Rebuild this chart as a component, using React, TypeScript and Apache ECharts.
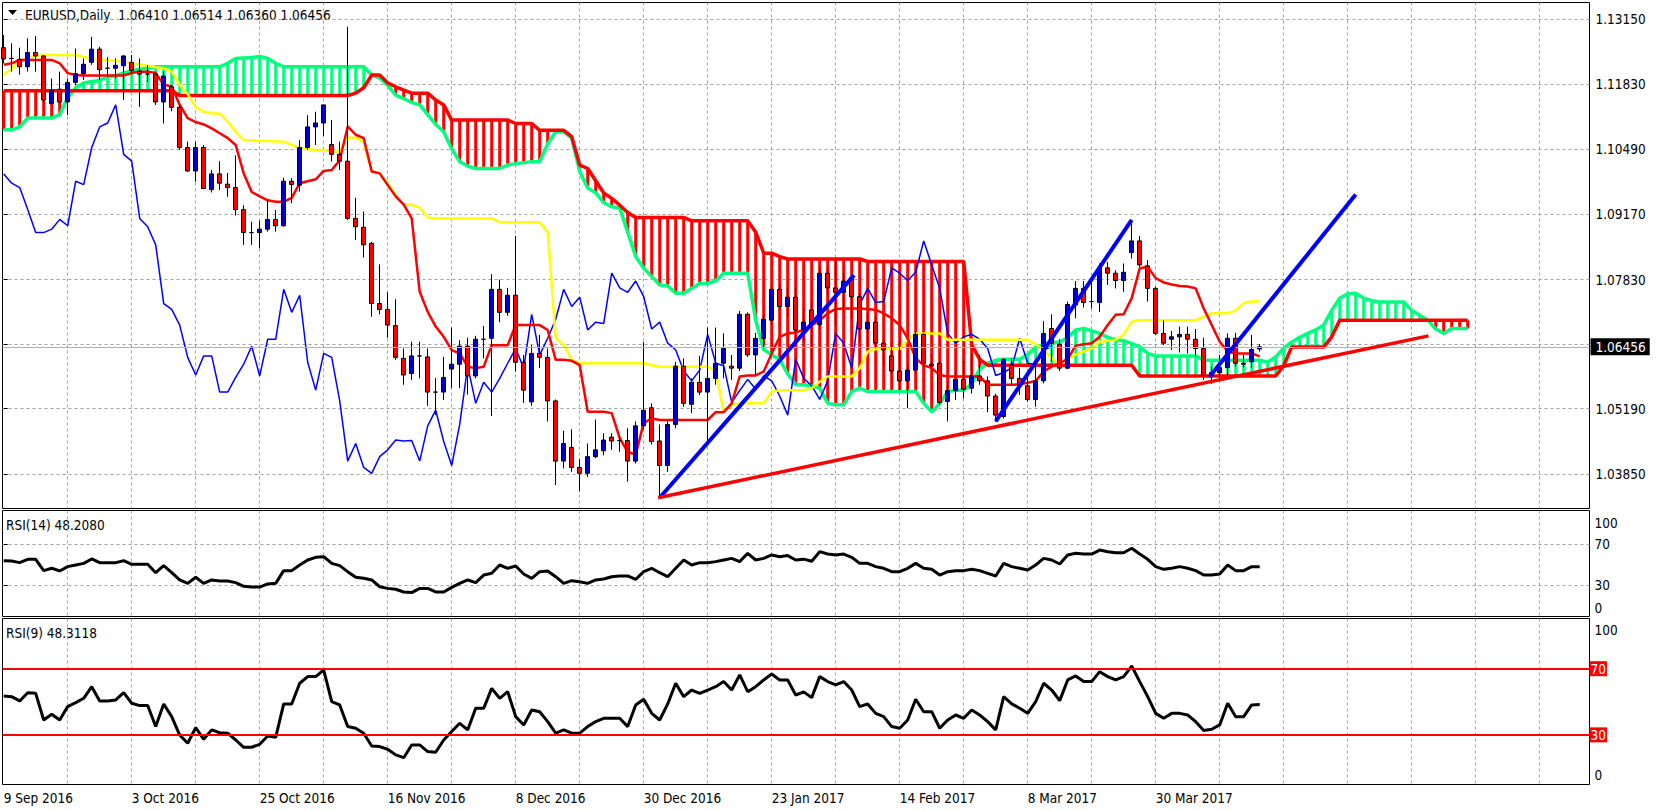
import React, { useEffect, useRef } from "react";
import * as echarts from "echarts";

// ---------------- DATA ----------------
const opens = [
  1.1257,1.1235,1.1233,1.1218,1.1247,1.1240,1.1143,1.1172,1.1146,1.1186,
  1.1204,1.1227,1.1254,1.1215,1.1215,1.1220,1.1227,1.1209,1.1203,1.1203,
  1.1146,1.1177,1.1135,1.1053,1.1005,1.1053,1.0967,1.0999,1.0978,1.0971,
  1.0926,1.0879,1.0879,1.0886,1.0906,1.0893,1.0984,1.0976,1.1053,1.1095,
  1.1103,1.1059,1.1039,1.1025,1.0908,1.0890,1.0857,1.0734,1.0722,1.0689,
  1.0622,1.0591,1.0627,1.0625,1.0553,1.0553,1.0600,1.0610,1.0647,1.0586,
  1.0661,1.0663,1.0763,1.0716,1.0751,1.0614,1.0533,1.0632,1.0624,1.0535,
  1.0412,1.0440,1.0399,1.0387,1.0421,1.0433,1.0461,1.0454,1.0454,1.0412,
  1.0484,1.0521,1.0453,1.0403,1.0487,1.0606,1.0528,1.0573,1.0553,1.0581,
  1.0612,1.0606,1.0602,1.0712,1.0629,1.0663,1.0700,1.0763,1.0728,1.0747,
  1.0680,1.0721,1.0691,1.0796,1.0766,1.0757,1.0787,1.0748,1.0682,1.0696,
  1.0653,1.0627,1.0596,1.0576,1.0598,1.0671,1.0610,1.0612,1.0534,1.0556,
  1.0579,1.0561,1.0586,1.0576,1.0545,1.0503,1.0608,1.0581,1.0566,1.0538,
  1.0576,1.0683,1.0651,1.0602,1.0731,1.0765,1.0738,1.0736,1.0807,1.0796,
  1.0781,1.0838,1.0862,1.0811,1.0765,1.0673,1.0661,1.0666,1.0671,1.0661,
  1.0642,1.0586,1.0593,1.0603,1.0663,1.0612,1.0615,1.06410,
];
const highs = [
  1.1283,1.1266,1.1257,1.1276,1.1281,1.1242,1.1194,1.1208,1.1194,1.1255,
  1.1235,1.1279,1.1259,1.1238,1.1235,1.1242,1.1242,1.1235,1.1221,1.1208,
  1.1208,1.1180,1.1140,1.1065,1.1065,1.1058,1.1007,1.1025,1.1001,1.1037,
  1.0935,1.0901,1.0903,1.0946,1.0925,1.0991,1.0990,1.1068,1.1119,1.1126,
  1.1140,1.1109,1.1065,1.1300,1.0950,1.0922,1.0860,1.0814,1.0757,1.0743,
  1.0642,1.0656,1.0656,1.0642,1.0582,1.0625,1.0685,1.0659,1.0664,1.0668,
  1.0688,1.0794,1.0783,1.0766,1.0872,1.0629,1.0649,1.0670,1.0642,1.0538,
  1.0474,1.0477,1.0416,1.0448,1.0497,1.0469,1.0469,1.0462,1.0479,1.0493,
  1.0655,1.0530,1.0487,1.0496,1.0615,1.0622,1.0581,1.0627,1.0685,1.0685,
  1.0673,1.0629,1.0719,1.0716,1.0674,1.0711,1.0768,1.0772,1.0766,1.0766,
  1.0723,1.0739,1.0809,1.0806,1.0826,1.0796,1.0792,1.0755,1.0714,1.0707,
  1.0664,1.0656,1.0656,1.0608,1.0676,1.0673,1.0630,1.0615,1.0574,1.0595,
  1.0617,1.0629,1.0629,1.0585,1.0550,1.0622,1.0622,1.0602,1.0583,1.0612,
  1.0698,1.0712,1.0661,1.0738,1.0780,1.0780,1.0779,1.0816,1.0819,1.0802,
  1.0816,1.0905,1.0872,1.0823,1.0768,1.0700,1.0678,1.0687,1.0687,1.0682,
  1.0664,1.0605,1.0629,1.0673,1.0674,1.0629,1.0670,1.06514,
];
const lows = [
  1.1225,1.1208,1.1202,1.1208,1.1208,1.1143,1.1140,1.1143,1.1119,1.1180,
  1.1191,1.1222,1.1191,1.1197,1.1194,1.1150,1.1204,1.1136,1.1187,1.1140,
  1.1102,1.1127,1.1048,1.1003,1.0983,1.0968,1.0961,1.0966,1.0952,1.0914,
  1.0854,1.0854,1.0847,1.0881,1.0881,1.0891,1.0939,1.0963,1.1048,1.1058,
  1.1077,1.1024,1.1007,1.0905,1.0864,1.0828,1.0707,1.0712,1.0664,1.0619,
  1.0568,1.0578,1.0581,1.0525,1.0506,1.0537,1.0561,1.0561,1.0548,1.0581,
  1.0622,1.0504,1.0696,1.0709,1.0595,1.0531,1.0525,1.0602,1.0493,1.0363,
  1.0397,1.0390,1.0350,1.0380,1.0418,1.0424,1.0435,1.0431,1.0370,1.0407,
  1.0477,1.0446,1.0337,1.0390,1.0479,1.0523,1.0510,1.0547,1.0445,1.0568,
  1.0581,1.0578,1.0596,1.0625,1.0588,1.0642,1.0690,1.0719,1.0707,1.0663,
  1.0656,1.0619,1.0683,1.0751,1.0687,1.0717,1.0704,1.0656,1.0639,1.0642,
  1.0605,1.0591,1.0557,1.0520,1.0591,1.0605,1.0602,1.0527,1.0493,1.0537,
  1.0540,1.0550,1.0568,1.0512,1.0493,1.0499,1.0568,1.0547,1.0533,1.0523,
  1.0571,1.0615,1.0596,1.0600,1.0704,1.0726,1.0724,1.0717,1.0772,1.0765,
  1.0758,1.0826,1.0809,1.0738,1.0670,1.0649,1.0639,1.0634,1.0632,1.0625,
  1.0578,1.0570,1.0574,1.0587,1.0605,1.0603,1.0603,1.06360,
];
const closes = [
  1.1234,1.1235,1.1218,1.1247,1.1240,1.1150,1.1170,1.1146,1.1186,1.1204,
  1.1223,1.1254,1.1212,1.1215,1.1221,1.1240,1.1210,1.1203,1.1203,1.1146,
  1.1199,1.1135,1.1053,1.1005,1.1053,1.0969,1.0999,1.0980,1.0971,1.0926,
  1.0879,1.0879,1.0886,1.0906,1.0893,1.0984,1.0977,1.1053,1.1095,1.1103,
  1.1140,1.1039,1.1025,1.0908,1.0891,1.0854,1.0734,1.0722,1.0690,1.0624,
  1.0588,1.0627,1.0627,1.0553,1.0553,1.0583,1.0610,1.0647,1.0586,1.0661,
  1.0661,1.0763,1.0716,1.0751,1.0614,1.0557,1.0632,1.0624,1.0535,1.0412,
  1.0448,1.0399,1.0387,1.0421,1.0435,1.0455,1.0453,1.0454,1.0412,1.0484,
  1.0516,1.0452,1.0403,1.0487,1.0606,1.0530,1.0573,1.0553,1.0581,1.0612,
  1.0642,1.0602,1.0712,1.0629,1.0663,1.0702,1.0763,1.0728,1.0747,1.0680,
  1.0696,1.0693,1.0796,1.0766,1.0757,1.0780,1.0748,1.0682,1.0696,1.0653,
  1.0639,1.0596,1.0576,1.0598,1.0671,1.0612,1.0607,1.0532,1.0556,1.0579,
  1.0559,1.0586,1.0576,1.0545,1.0506,1.0620,1.0581,1.0566,1.0538,1.0576,
  1.0673,1.0653,1.0602,1.0732,1.0765,1.0736,1.0738,1.0807,1.0796,1.0781,
  1.0798,1.0862,1.0813,1.0765,1.0673,1.0653,1.0666,1.0671,1.0661,1.0642,
  1.0587,1.0593,1.0603,1.0663,1.0612,1.0610,1.0640,1.06456,
];

const tenkan = [
  1.1222,1.1225,1.1232,1.1232,1.1232,1.1232,1.1232,1.1225,1.1205,1.1201,
  1.1200,1.1200,1.1200,1.1200,1.1200,1.1200,1.1205,1.1208,1.1208,1.1205,
  1.1181,1.1178,1.1140,1.1113,1.1105,1.1100,1.1092,1.1082,1.1072,1.1058,
  1.1000,1.0962,1.0953,1.0945,1.0942,1.0942,1.0950,1.0980,1.0984,1.0988,
  1.1005,1.1007,1.1027,1.1096,1.1079,1.1072,1.1004,1.1000,1.0976,1.0953,
  1.0936,1.0908,1.0758,1.0717,1.0687,1.0666,1.0639,1.0632,1.0605,1.0602,
  1.0605,1.0649,1.0649,1.0649,1.0690,1.0690,1.0690,1.0690,1.0680,1.0619,
  1.0619,1.0617,1.0608,1.0513,1.0513,1.0513,1.0510,1.0459,1.0431,1.0425,
  1.0490,1.0499,1.0496,1.0496,1.0496,1.0496,1.0496,1.0496,1.0496,1.0512,
  1.0512,1.0530,1.0585,1.0587,1.0587,1.0595,1.0632,1.0666,1.0673,1.0675,
  1.0680,1.0689,1.0700,1.0714,1.0723,1.0724,1.0724,1.0724,1.0723,1.0721,
  1.0714,1.0704,1.0690,1.0663,1.0622,1.0608,1.0602,1.0588,1.0585,1.0585,
  1.0585,1.0585,1.0585,1.0568,1.0568,1.0568,1.0568,1.0569,1.0572,1.0576,
  1.0595,1.0605,1.0612,1.0621,1.0648,1.0651,1.0653,1.0666,1.0690,1.0711,
  1.0712,1.0745,1.0806,1.0809,1.0786,1.0777,1.0773,1.0770,1.0769,1.0765,
  1.0724,1.0690,1.0656,1.0636,1.0632,1.0632,1.0632,1.0626,
];
const kijun = [
  1.1201,1.1215,1.1228,1.1237,1.1240,1.1242,1.1242,1.1242,1.1242,1.1242,
  1.1238,1.1235,1.1232,1.1232,1.1230,1.1228,1.1225,1.1222,1.1220,1.1217,
  1.1215,1.1208,1.1181,1.1162,1.1135,1.1126,1.1123,1.1122,1.1106,1.1085,
  1.1068,1.1067,1.1066,1.1066,1.1065,1.1065,1.1058,1.1052,1.1050,1.1048,
  1.1048,1.1045,1.1045,1.1073,1.1073,1.1064,1.1004,1.1000,1.0980,1.0955,
  1.0936,1.0936,1.0930,1.0910,1.0908,1.0908,1.0908,1.0908,1.0908,1.0908,
  1.0908,1.0908,1.0900,1.0900,1.0900,1.0900,1.0900,1.0900,1.0880,1.0663,
  1.0650,1.0619,1.0612,1.0612,1.0612,1.0612,1.0612,1.0612,1.0612,1.0612,
  1.0612,1.0608,1.0605,1.0605,1.0605,1.0605,1.0605,1.0605,1.0605,1.0595,
  1.0513,1.0527,1.0530,1.0530,1.0530,1.0530,1.0554,1.0557,1.0557,1.0557,
  1.0557,1.0561,1.0574,1.0585,1.0585,1.0585,1.0585,1.0602,1.0636,1.0641,
  1.0641,1.0641,1.0641,1.0660,1.0673,1.0673,1.0673,1.0673,1.0660,1.0660,
  1.0660,1.0660,1.0660,1.0660,1.0660,1.0660,1.0660,1.0660,1.0660,1.0650,
  1.0640,1.0622,1.0610,1.0620,1.0630,1.0636,1.0643,1.0656,1.0658,1.0660,
  1.0670,1.0697,1.0700,1.0700,1.0700,1.0700,1.0700,1.0700,1.0700,1.0700,
  1.0707,1.0714,1.0714,1.0714,1.0720,1.0735,1.0738,1.0738,
];
const senkouA = [
  1.1089,1.1089,1.1095,1.1113,1.1113,1.1113,1.1113,1.1120,1.1155,1.1175,
  1.1185,1.1188,1.1190,1.1197,1.1200,1.1205,1.1210,1.1213,1.1215,1.1218,
  1.1218,1.1218,1.1218,1.1218,1.1218,1.1218,1.1218,1.1218,1.1225,1.1235,
  1.1236,1.1237,1.1239,1.1235,1.1225,1.1218,1.1218,1.1218,1.1218,1.1218,
  1.1218,1.1218,1.1218,1.1218,1.1218,1.1218,1.1201,1.1195,1.1180,1.1160,
  1.1153,1.1145,1.1140,1.1120,1.1100,1.1085,1.1050,1.1024,1.1015,1.1010,
  1.1010,1.1010,1.1010,1.1017,1.1020,1.1022,1.1024,1.1024,1.1060,1.1085,
  1.1085,1.1072,1.1004,1.0970,1.0960,1.0940,1.0932,1.0929,1.0880,1.0830,
  1.0806,1.0789,1.0772,1.0770,1.0755,1.0755,1.0765,1.0775,1.0775,1.0780,
  1.0796,1.0796,1.0796,1.0796,1.0700,1.0640,1.0629,1.0620,1.0590,1.0568,
  1.0568,1.0566,1.0561,1.0530,1.0527,1.0527,1.0554,1.0561,1.0554,1.0554,
  1.0554,1.0554,1.0554,1.0554,1.0554,1.0530,1.0513,1.0530,1.0554,1.0557,
  1.0557,1.0570,1.0600,1.0612,1.0618,1.0620,1.0620,1.0620,1.0630,1.0645,
  1.0650,1.0655,1.0655,1.0665,1.0680,1.0683,1.0678,1.0673,1.0665,1.0660,
  1.0658,1.0652,1.0646,1.0632,1.0627,1.0627,1.0627,1.0627,1.0627,1.0627,
  1.0618,1.0618,1.0618,1.0618,1.0618,1.0618,1.0618,1.0618,1.0614,1.0625,
  1.0643,1.0655,1.0665,1.0673,1.0680,1.0690,1.0720,1.0745,1.0754,1.0755,
  1.0745,1.0740,1.0737,1.0737,1.0737,1.0737,1.0720,1.0710,1.0700,1.0682,
  1.0673,1.0683,1.0683,1.0683,
];
const senkouB = [
  1.1169,1.1169,1.1169,1.1169,1.1169,1.1169,1.1169,1.1169,1.1169,1.1169,
  1.1169,1.1169,1.1169,1.1169,1.1169,1.1169,1.1169,1.1169,1.1169,1.1169,
  1.1169,1.1169,1.1159,1.1159,1.1159,1.1159,1.1159,1.1159,1.1159,1.1159,
  1.1159,1.1159,1.1159,1.1159,1.1159,1.1159,1.1159,1.1159,1.1159,1.1159,
  1.1159,1.1159,1.1159,1.1159,1.1164,1.1175,1.1201,1.1201,1.1185,1.1177,
  1.1170,1.1164,1.1164,1.1164,1.1150,1.1140,1.1109,1.1109,1.1109,1.1109,
  1.1109,1.1109,1.1109,1.1109,1.1102,1.1102,1.1102,1.1088,1.1088,1.1088,
  1.1088,1.1075,1.1017,1.1010,1.0985,1.0960,1.0949,1.0935,1.0920,1.0910,
  1.0910,1.0910,1.0910,1.0910,1.0910,1.0910,1.0903,1.0903,1.0903,1.0903,
  1.0903,1.0903,1.0903,1.0903,1.0880,1.0837,1.0837,1.0830,1.0825,1.0825,
  1.0825,1.0825,1.0825,1.0825,1.0825,1.0825,1.0825,1.0825,1.0820,1.0820,
  1.0820,1.0820,1.0820,1.0820,1.0820,1.0820,1.0820,1.0820,1.0820,1.0820,
  1.0820,1.0650,1.0620,1.0608,1.0608,1.0608,1.0608,1.0608,1.0608,1.0608,
  1.0608,1.0608,1.0608,1.0608,1.0608,1.0608,1.0608,1.0608,1.0608,1.0608,
  1.0608,1.0608,1.0586,1.0586,1.0586,1.0586,1.0586,1.0586,1.0586,1.0586,
  1.0586,1.0586,1.0586,1.0586,1.0586,1.0586,1.0586,1.0586,1.0586,1.0586,
  1.0607,1.0645,1.0645,1.0645,1.0645,1.0645,1.0666,1.0700,1.0700,1.0700,
  1.0700,1.0700,1.0700,1.0700,1.0700,1.0700,1.0700,1.0700,1.0700,1.0700,
  1.0700,1.0700,1.0700,1.0700,
];

const rsi14 = [
  54.0,53.7,52.1,55.3,55.3,44.3,46.6,44.0,48.2,49.8,
  51.4,55.7,52.1,52.1,52.1,54.0,50.5,50.5,50.5,42.3,
  49.2,42.3,35.2,31.9,37.8,31.9,35.2,34.2,34.2,32.6,
  29.0,28.3,28.3,31.3,31.9,44.3,44.3,49.8,54.7,57.3,
  57.9,51.4,49.2,43.3,37.8,36.8,35.2,28.6,27.0,26.1,
  23.5,22.9,27.0,27.0,23.5,23.5,28.0,31.9,35.2,32.6,
  40.0,41.7,49.8,46.6,48.8,41.0,36.8,43.3,44.0,38.4,
  31.9,34.5,33.5,31.9,35.2,36.1,38.4,39.1,39.1,35.8,
  43.3,46.6,42.3,38.4,46.6,54.7,49.8,52.1,52.1,53.1,
  54.7,56.3,53.1,61.2,54.7,56.3,59.6,57.9,59.0,54.7,
  55.5,53.5,62.8,60.5,59.6,60.5,57.3,51.4,51.4,48.2,
  46.6,43.3,43.3,46.6,51.4,46.6,45.6,40.0,43.3,44.3,
  44.3,45.6,44.3,41.7,39.1,51.4,48.2,46.6,44.9,49.8,
  56.3,54.7,50.8,59.6,61.2,60.5,60.5,64.4,62.8,61.8,
  61.8,66.1,60.5,55.3,48.2,45.6,46.6,48.2,46.6,44.3,
  40.0,40.0,41.0,49.8,44.3,44.3,48.2,48.208,
];
const rsi9 = [
  53.5,53.1,50.5,55.5,55.1,39.0,42.4,39.0,47.1,49.5,
  52.1,59.1,50.5,50.5,51.1,55.5,49.1,47.7,47.7,35.0,
  48.7,41.0,29.9,24.9,34.4,27.3,33.0,31.3,31.0,26.9,
  22.5,22.5,24.3,29.3,28.5,48.7,48.7,61.2,65.2,65.2,
  69.2,50.1,48.1,35.0,34.0,31.0,23.3,22.9,21.3,17.9,
  16.2,23.9,23.9,19.9,19.5,26.9,32.0,37.0,33.0,46.1,
  46.1,58.1,52.1,56.1,41.0,36.0,45.0,44.0,38.0,31.0,
  33.0,31.0,31.0,35.0,38.0,40.0,40.0,40.0,35.0,48.1,
  51.5,43.0,39.0,48.7,61.2,53.1,57.1,55.1,57.1,59.1,
  62.2,57.1,66.2,56.1,59.1,63.2,66.8,63.2,63.2,54.1,
  56.0,52.5,65.2,62.2,60.2,62.2,57.1,47.1,48.7,43.0,
  41.0,35.0,34.0,39.0,51.5,44.0,44.0,34.0,39.0,42.0,
  40.0,45.0,42.0,38.0,33.0,53.1,48.7,46.1,43.0,50.1,
  61.2,57.1,50.7,63.2,65.6,62.2,62.2,68.2,65.2,63.2,
  65.2,71.6,62.2,53.1,43.0,40.0,43.0,43.0,42.0,38.0,
  32.6,33.4,36.0,49.1,41.0,41.0,48.1,48.3118,
];

const chikouShift = 26;
const trendBlue1 = [[82, 1.0337], [106.3, 1.0792]];
const trendBlue2 = [[124, 1.0493], [141, 1.0905]];
const trendBlue3 = [[150.7, 1.0584], [169, 1.0957]];
const trendRed = [[81.8, 1.0337], [178.1, 1.0668]];

const priceGridValues = [1.0385, 1.0519, 1.0651, 1.0783, 1.0917, 1.1049, 1.1183, 1.1315];
const priceLabelValues = [1.0385, 1.0519, 1.0783, 1.0917, 1.1049, 1.1183, 1.1315];
const timeGridValues = [8,16,24,32,40,48,56,64,72,80,88,96,104,112,120,128,136,144,152,160,168,176,184,192];
const dateTickValues = [0,16,32,48,64,80,96,112,128,144];
const dateLabels = ["9 Sep 2016","3 Oct 2016","25 Oct 2016","16 Nov 2016","8 Dec 2016","30 Dec 2016","23 Jan 2017","14 Feb 2017","8 Mar 2017","30 Mar 2017"];
const rsiLevels = [70, 30];
const lastPrice = 1.06456;
const headerText = "EURUSD,Daily  1.06410 1.06514 1.06360 1.06456";
const rsi14Label = "RSI(14) 48.2080";
const rsi9Label = "RSI(9) 48.3118";

// ---------------- STYLE ----------------
const FONT = '"DejaVu Sans Condensed", "DejaVu Sans", sans-serif';
const FS = 13.5;
const GRID_COLOR = "#A0A0A0";
const GREEN = "#00FF7F";
const RED = "#FF0000";
const BULL = "#0000CD";
const X_MIN = -0.15;
const X_MAX = 198.225;

const pairs = (arr: number[]) => arr.map((v, i) => [i, v]);

function buildOption() {
  const xAxisBase = (g: number) => ({
    type: "value",
    gridIndex: g,
    min: X_MIN,
    max: X_MAX,
    axisLine: { show: false },
    axisTick: { show: false, customValues: timeGridValues },
    splitLine: { show: true, lineStyle: { color: GRID_COLOR, type: [3, 3], width: 1 } },
    axisLabel: g === 2
      ? {
          show: true,
          customValues: dateTickValues,
          formatter: (v: number) => dateLabels[Math.round(v / 16)] ?? "",
          align: "left",
          margin: 6,
          color: "#000",
          fontFamily: FONT,
          fontSize: FS,
        }
      : { show: false },
  });

  const labelStyle = { color: "#000", fontFamily: FONT, fontSize: FS };

  return {
    animation: false,
    backgroundColor: "#ffffff",
    grid: [
      { left: 2.5, top: 2.5, width: 1587, height: 506, show: true, borderColor: "#000", borderWidth: 1 },
      { left: 2.5, top: 510.5, width: 1587, height: 106, show: true, borderColor: "#000", borderWidth: 1 },
      { left: 2.5, top: 618.5, width: 1587, height: 166, show: true, borderColor: "#000", borderWidth: 1 },
    ],
    xAxis: [xAxisBase(0), xAxisBase(1), xAxisBase(2)],
    yAxis: [
      {
        type: "value",
        gridIndex: 0,
        position: "right",
        min: 1.03151,
        max: 1.13493,
        axisLine: { show: false },
        axisTick: { show: true, length: 4, customValues: priceGridValues, lineStyle: { color: "#000" } },
        splitLine: { show: true, lineStyle: { color: GRID_COLOR, type: [3, 3], width: 1 } },
        axisLabel: {
          customValues: priceLabelValues,
          formatter: (v: number) => v.toFixed(5),
          margin: 6,
          ...labelStyle,
        },
      },
      {
        type: "value",
        gridIndex: 1,
        position: "right",
        min: -0.44,
        max: 102.98,
        axisLine: { show: false },
        axisTick: { show: true, length: 4, customValues: rsiLevels, lineStyle: { color: "#000" } },
        splitLine: { show: true, lineStyle: { color: GRID_COLOR, type: [3, 3], width: 1 } },
        axisLabel: {
          customValues: [100, 70, 30, 0],
          formatter: (v: number) => (v === 100 ? "{dn|100}" : v === 0 ? "{up|0}" : String(v)),
          margin: 5,
          ...labelStyle,
          rich: {
            dn: { padding: [18, 0, 0, 0], ...labelStyle },
            up: { padding: [0, 0, 16, 0], ...labelStyle },
          },
        },
      },
      {
        type: "value",
        gridIndex: 2,
        position: "right",
        min: 0,
        max: 100.33,
        axisLine: { show: false },
        axisTick: { show: false },
        splitLine: { show: false },
        axisLabel: {
          customValues: [100, 0],
          formatter: (v: number) => (v === 100 ? "{dn|100}" : "{up|0}"),
          margin: 5,
          ...labelStyle,
          rich: {
            dn: { padding: [22, 0, 0, 0], ...labelStyle },
            up: { padding: [0, 0, 19, 0], ...labelStyle },
          },
        },
      },
    ],
    graphic: [
      { type: "polygon", shape: { points: [[8, 10], [17, 10], [12.5, 15]] }, style: { fill: "#000" } },
      { type: "text", x: 25, y: 14.5, style: { text: headerText, fill: "#000", fontFamily: FONT, fontSize: FS, verticalAlign: "middle", textVerticalAlign: "middle" } },
      { type: "text", x: 6, y: 525, style: { text: rsi14Label, fill: "#000", fontFamily: FONT, fontSize: FS, verticalAlign: "middle", textVerticalAlign: "middle" } },
      { type: "text", x: 6, y: 633, style: { text: rsi9Label, fill: "#000", fontFamily: FONT, fontSize: FS, verticalAlign: "middle", textVerticalAlign: "middle" } },
    ],
    series: [
      {
        name: "Kumo",
        type: "custom",
        xAxisIndex: 0,
        yAxisIndex: 0,
        z: 1,
        silent: true,
        clip: true,
        encode: { x: 0, y: [1, 2] },
        data: senkouA.map((a, i) => [i, a, senkouB[i]]),
        renderItem: (params: any, api: any) => {
          const i = api.value(0);
          const a = api.value(1);
          const b = api.value(2);
          const pa = api.coord([i, a]);
          const pb = api.coord([i, b]);
          const top = Math.min(pa[1], pb[1]);
          const h = Math.max(1, Math.abs(pa[1] - pb[1]));
          return {
            type: "rect",
            shape: { x: pa[0] - 1.5, y: top, width: 3, height: h },
            style: { fill: a >= b ? GREEN : RED },
          };
        },
      },
      { name: "Senkou A", type: "line", xAxisIndex: 0, yAxisIndex: 0, z: 2, symbol: "none", silent: true, data: pairs(senkouA), lineStyle: { color: GREEN, width: 3.5 } },
      {
        name: "Senkou B",
        type: "line",
        xAxisIndex: 0,
        yAxisIndex: 0,
        z: 2,
        symbol: "none",
        silent: true,
        data: pairs(senkouB),
        lineStyle: { color: RED, width: 3.5 },
        markLine: {
          silent: true,
          symbol: ["none", "none"],
          animation: false,
          precision: 5,
          data: [{ yAxis: lastPrice }],
          lineStyle: { color: "#B4B4B4", type: "solid", width: 1 },
          label: {
            show: true,
            position: "end",
            formatter: lastPrice.toFixed(5),
            color: "#fff",
            backgroundColor: "#000",
            padding: [2, 4, 1, 5],
            distance: 1,
            fontFamily: FONT,
            fontSize: FS,
          },
        },
      },
      { name: "Chikou", type: "line", xAxisIndex: 0, yAxisIndex: 0, z: 3, symbol: "none", silent: true, data: pairs(closes.slice(chikouShift)), lineStyle: { color: "#0000FF", width: 1.5 } },
      { name: "Kijun", type: "line", xAxisIndex: 0, yAxisIndex: 0, z: 3, symbol: "none", silent: true, data: pairs(kijun), lineStyle: { color: "#FFFF00", width: 2.5 } },
      { name: "Tenkan", type: "line", xAxisIndex: 0, yAxisIndex: 0, z: 3, symbol: "none", silent: true, data: pairs(tenkan), lineStyle: { color: RED, width: 2.5 } },
      {
        name: "EURUSD",
        type: "candlestick",
        xAxisIndex: 0,
        yAxisIndex: 0,
        z: 4,
        silent: true,
        barWidth: 4,
        data: opens.map((o, i) => [i, o, closes[i], lows[i], highs[i]]),
        itemStyle: {
          color: BULL,
          color0: RED,
          borderColor: "#000",
          borderColor0: "#000",
          borderColorDoji: "#000",
          borderWidth: 1,
        },
      },
      { name: "Trend 1", type: "line", xAxisIndex: 0, yAxisIndex: 0, z: 5, symbol: "none", silent: true, data: trendBlue1, lineStyle: { color: "#0000FF", width: 4 } },
      { name: "Trend 2", type: "line", xAxisIndex: 0, yAxisIndex: 0, z: 5, symbol: "none", silent: true, data: trendBlue2, lineStyle: { color: "#0000FF", width: 4 } },
      { name: "Trend 3", type: "line", xAxisIndex: 0, yAxisIndex: 0, z: 5, symbol: "none", silent: true, data: trendBlue3, lineStyle: { color: "#0000FF", width: 4 } },
      { name: "Support", type: "line", xAxisIndex: 0, yAxisIndex: 0, z: 5, symbol: "none", silent: true, data: trendRed, lineStyle: { color: RED, width: 3.5 } },
      { name: "RSI(14)", type: "line", xAxisIndex: 1, yAxisIndex: 1, z: 3, symbol: "none", silent: true, data: pairs(rsi14), lineStyle: { color: "#000", width: 3 } },
      {
        name: "RSI(9)",
        type: "line",
        xAxisIndex: 2,
        yAxisIndex: 2,
        z: 3,
        symbol: "none",
        silent: true,
        data: pairs(rsi9),
        lineStyle: { color: "#000", width: 3 },
        markLine: {
          silent: true,
          symbol: ["none", "none"],
          animation: false,
          data: rsiLevels.map((v) => ({ yAxis: v })),
          lineStyle: { color: RED, type: "solid", width: 2 },
          label: {
            show: true,
            position: "end",
            formatter: "{c}",
            color: "#fff",
            backgroundColor: RED,
            padding: [1, 1, 0, 1],
            distance: 0,
            fontFamily: FONT,
            fontSize: FS,
          },
        },
      },
    ],
  };
}

export default function App() {
  const ref = useRef<HTMLDivElement>(null);
  useEffect(() => {
    if (!ref.current) return;
    const chart = echarts.init(ref.current, undefined, { renderer: "svg" });
    chart.setOption(buildOption() as any);
    return () => chart.dispose();
  }, []);
  return (
    <div
      ref={ref}
      style={{ position: "absolute", left: 0, top: 0, width: 1657, height: 811, background: "#fff" }}
    />
  );
}
